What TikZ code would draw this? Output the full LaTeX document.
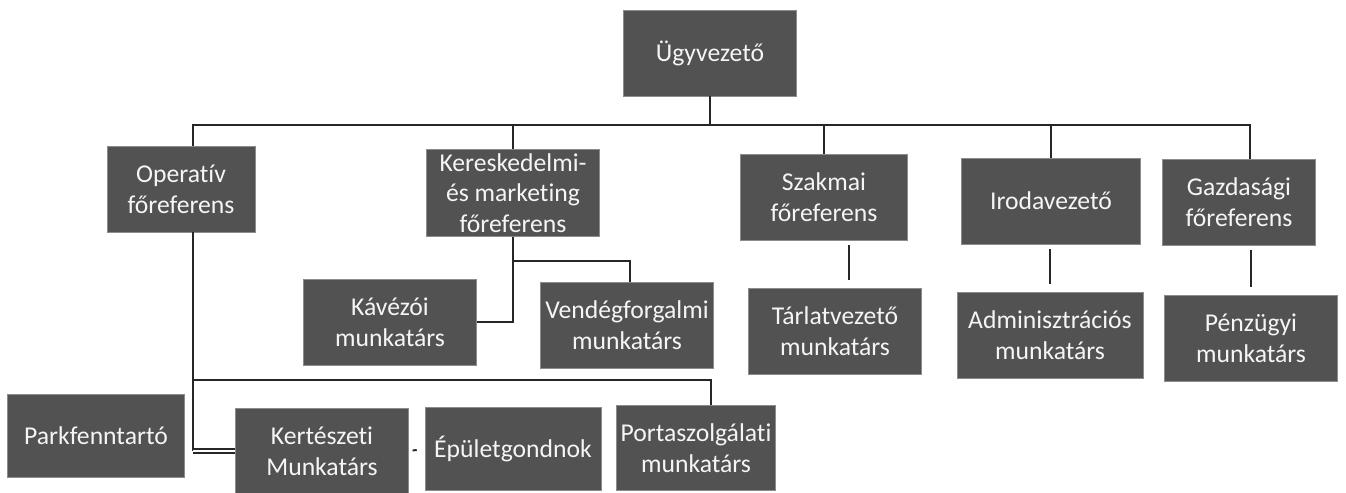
\documentclass[tikz,border=0pt]{standalone}
\usepackage{fontspec}
\setmainfont{Carlito}[Ligatures=NoCommon]
\usetikzlibrary{positioning,calc}
\tikzset{
  unit/.style={draw=black!45, fill=black!68, text=black!4, align=center, inner sep=2pt,
    minimum width=3.45cm, minimum height=1.72cm, font=\fontsize{14.6}{17.5}\selectfont},
  link/.style={line width=1.1pt, black!85},
  gap/.style={shorten <=0.16cm, shorten >=0.1cm},
}
\begin{document}
\begin{tikzpicture}[x=0.02cm,y=-0.02cm]
\useasboundingbox (0,0) rectangle (1346,493);
\node[unit] at (710,53) (ceo) {Ügyvezető};
\node[unit,minimum width=2.96cm] at (181,189) (op) {Operatív\\főreferens};
\node[unit] at (513,193) (ker) {Kereskedelmi-\\és marketing\\főreferens};
\node[unit,minimum width=3.34cm] at (824,197) (szak) {Szakmai\\főreferens};
\node[unit,minimum width=3.58cm] at (1051,201) (iroda) {Irodavezető};
\node[unit,minimum width=3.06cm] at (1239,202) (gazd) {Gazdasági\\főreferens};
\node[unit] at (390,322) (kav) {Kávézói\\munkatárs};
\node[unit] at (627,325) (vend) {Vendégforgalmi\\munkatárs};
\node[unit] at (835,331) (tarl) {Tárlatvezető\\munkatárs};
\node[unit,minimum width=3.72cm] at (1050,335) (admin) {Adminisztrációs\\munkatárs};
\node[unit] at (1251,338) (penz) {Pénzügyi\\munkatárs};
\node[unit,minimum width=3.54cm,minimum height=1.66cm] at (96,436) (park) {Parkfenntartó};
\node[unit] at (322,451) (kert) {Kertészeti\\Munkatárs};
\node[unit,minimum width=3.52cm,minimum height=1.66cm] at (513,449) (epul) {Épületgondnok};
\node[unit,minimum width=3.18cm,minimum height=1.7cm] at (696,448) (porta) {Portaszolgálati\\munkatárs};
% vezetoi szint
\coordinate (bar) at (710,125);
\coordinate (opdown) at ($(op.south)+(12,0)$);
\draw[link] (ceo.south) -- (bar);
\draw[link] (opdown |- op.north) |- (bar) -| ([xshift=0.22cm]gazd.north);
\foreach \n in {ker,szak,iroda}
  \draw[link] (\n.north) -- (\n.north |- bar);
% kereskedelem
\draw[link] (ker.south) |- (kav.east);
\draw[link] ($(ker.south)+(0,24)$) -| ([xshift=0.06cm]vend.north);
% szakmai, iroda, gazdasagi
\draw[link,gap] ([xshift=0.28cm]tarl.north) -- ([xshift=0.28cm]tarl.north |- szak.south);
\draw[link,gap] (admin.north) -- (admin.north |- iroda.south);
\draw[link,gap] (penz.north) -- (penz.north |- gazd.south);
% operativ
\draw[link] (opdown) -- (opdown |- kert.west);
\draw[link,double,double distance=1.6pt] (opdown |- kert.west) -- (kert.west);
\draw[link] ($(opdown)+(0,148)$) -| ([xshift=0.3cm]porta.north);
\draw[link,shorten <=0.08cm,shorten >=0.16cm] (kert.east) -- (epul.west);
\end{tikzpicture}
\end{document}
